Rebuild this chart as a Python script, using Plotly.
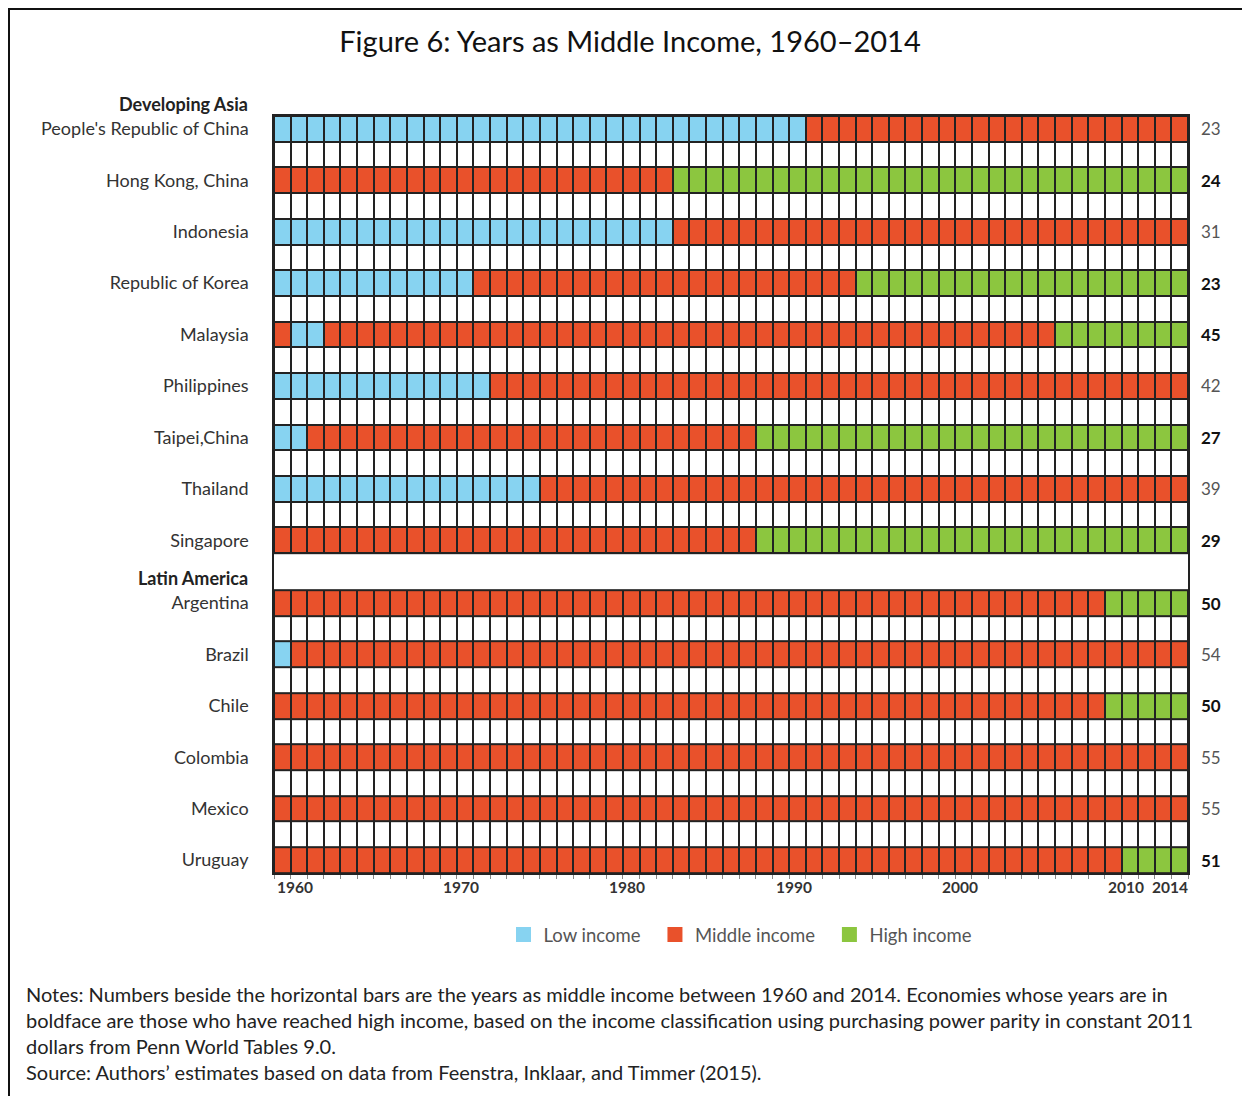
import plotly.graph_objects as go

# income status per year 1960..2014 (L = low, M = middle, H = high), grouped by decade
years = list(range(1960, 2015))

asia_countries = [
    "People's Republic of China", "Hong Kong, China", "Indonesia", "Republic of Korea",
    "Malaysia", "Philippines", "Taipei,China", "Thailand", "Singapore",
]
asia_status = [
    "LLLLLLLLLL LLLLLLLLLL LLLLLLLLLL LLMMMMMMMM MMMMMMMMMM MMMMM",
    "MMMMMMMMMM MMMMMMMMMM MMMMHHHHHH HHHHHHHHHH HHHHHHHHHH HHHHH",
    "LLLLLLLLLL LLLLLLLLLL LLLLMMMMMM MMMMMMMMMM MMMMMMMMMM MMMMM",
    "LLLLLLLLLL LLMMMMMMMM MMMMMMMMMM MMMMMHHHHH HHHHHHHHHH HHHHH",
    "MLLMMMMMMM MMMMMMMMMM MMMMMMMMMM MMMMMMMMMM MMMMMMMHHH HHHHH",
    "LLLLLLLLLL LLLMMMMMMM MMMMMMMMMM MMMMMMMMMM MMMMMMMMMM MMMMM",
    "LLMMMMMMMM MMMMMMMMMM MMMMMMMMMH HHHHHHHHHH HHHHHHHHHH HHHHH",
    "LLLLLLLLLL LLLLLLMMMM MMMMMMMMMM MMMMMMMMMM MMMMMMMMMM MMMMM",
    "MMMMMMMMMM MMMMMMMMMM MMMMMMMMMH HHHHHHHHHH HHHHHHHHHH HHHHH",
]
asia_years_mid = [23, 24, 31, 23, 45, 42, 27, 39, 29]

latam_countries = ["Argentina", "Brazil", "Chile", "Colombia", "Mexico", "Uruguay"]
latam_status = [
    "MMMMMMMMMM MMMMMMMMMM MMMMMMMMMM MMMMMMMMMM MMMMMMMMMM HHHHH",
    "LMMMMMMMMM MMMMMMMMMM MMMMMMMMMM MMMMMMMMMM MMMMMMMMMM MMMMM",
    "MMMMMMMMMM MMMMMMMMMM MMMMMMMMMM MMMMMMMMMM MMMMMMMMMM HHHHH",
    "MMMMMMMMMM MMMMMMMMMM MMMMMMMMMM MMMMMMMMMM MMMMMMMMMM MMMMM",
    "MMMMMMMMMM MMMMMMMMMM MMMMMMMMMM MMMMMMMMMM MMMMMMMMMM MMMMM",
    "MMMMMMMMMM MMMMMMMMMM MMMMMMMMMM MMMMMMMMMM MMMMMMMMMM MHHHH",
]
latam_years_mid = [50, 54, 50, 55, 55, 51]

label_years = [1960, 1970, 1980, 1990, 2000, 2010, 2014]

COLORS = {"L": "#87D3F1", "M": "#E9512B", "H": "#8CC63F"}
LEVEL = {"L": 0, "M": 1, "H": 2}
BLANK = 3
GRID = "#222222"
FONT = "Lato"

# the page body adds an 8px margin, so the figure is drawn 8px in from the window corner
OFF = 8
W, H = 1242, 1088
ML, MR, MT, MB = 266, 62, 108, 223
PW, PH = W - ML - MR, H - MT - MB
GAP = 1.44  # height of the "Latin America" spacer row, in row units


def px_x(sx):
    return (sx - OFF - ML) / PW


def px_y(sy):
    return (H - MB - (sy - OFF)) / PH


def build_rows(statuses):
    z = []
    for i, s in enumerate(statuses):
        s = s.replace(" ", "")
        z.append([LEVEL[c] for c in s])
        if i < len(statuses) - 1:
            z.append([BLANK] * len(years))
    return z


z_asia = build_rows(asia_status)
z_latam = build_rows(latam_status)
n_asia = len(z_asia)
latam_top = n_asia + GAP

scale = [
    [0, COLORS["L"]], [0.25, COLORS["L"]],
    [0.25, COLORS["M"]], [0.5, COLORS["M"]],
    [0.5, COLORS["H"]], [0.75, COLORS["H"]],
    [0.75, "white"], [1, "white"],
]

fig = go.Figure()
common = dict(x=years, colorscale=scale, zmin=-0.5, zmax=3.5, showscale=False, hoverinfo="skip")
fig.add_trace(go.Heatmap(z=z_asia, y=list(range(n_asia + 1)), xgap=2, ygap=2, **common))
fig.add_trace(go.Heatmap(z=[[BLANK] * len(years)], y=[n_asia, latam_top], xgap=0, ygap=2, **common))
fig.add_trace(go.Heatmap(z=z_latam, y=[latam_top + k for k in range(len(z_latam) + 1)],
                         xgap=2, ygap=2, **common))

nb = "\u00a0\u00a0"
for key, name in [("L", "Low income"), ("M", "Middle income"), ("H", "High income")]:
    fig.add_trace(go.Scatter(x=[None], y=[None], mode="markers", name=name + nb,
                             marker=dict(symbol="square", size=15, color=COLORS[key])))

asia_y = [2 * i + 0.5 for i in range(len(asia_countries))]
latam_y = [latam_top + 2 * j + 0.5 for j in range(len(latam_countries))]

# years-as-middle-income numbers on the right, bold where high income was reached
for yv, n, s in list(zip(asia_y, asia_years_mid, asia_status)) + list(zip(latam_y, latam_years_mid, latam_status)):
    high = "H" in s
    fig.add_annotation(x=1, xref="paper", y=yv, yref="y", xanchor="left", xshift=11,
                       text=f"<b>{n}</b>" if high else str(n), showarrow=False,
                       font=dict(family=FONT, size=17, color="#111" if high else "#555"))

# group headers
fig.add_annotation(x=0, xref="paper", y=px_y(104), yref="paper", xanchor="right", yanchor="middle",
                   xshift=-24, text="<b>Developing Asia</b>", showarrow=False,
                   font=dict(family=FONT, size=18, color="#222"))
fig.add_annotation(x=0, xref="paper", y=n_asia + GAP / 2 + 0.25, yref="y", xanchor="right",
                   yanchor="middle", xshift=-24, text="<b>Latin America</b>", showarrow=False,
                   font=dict(family=FONT, size=18, color="#222"))

# year labels under the grid
for yr in label_years:
    last = yr == label_years[-1]
    fig.add_annotation(x=yr + 0.5 if last else yr - 0.5, xref="x", y=0, yref="paper",
                       xanchor="right" if last else "left", xshift=2 if last else 1,
                       yanchor="top", yshift=-3, text=f"<b>{yr}</b>", showarrow=False,
                       font=dict(family=FONT, size=15.5, color="#333"))

# notes
notes = ("Notes: Numbers beside the horizontal bars are the years as middle income between 1960 and 2014. "
         "Economies whose years are in<br>boldface are those who have reached high income, based on the income "
         "classification using purchasing power parity in constant 2011<br>dollars from Penn World Tables 9.0."
         "<br>Source: Authors\u2019 estimates based on data from Feenstra, Inklaar, and Timmer (2015).")
fig.add_annotation(x=px_x(24), xref="paper", y=px_y(980), yref="paper", xanchor="left", yanchor="top",
                   align="left", text=notes, showarrow=False,
                   font=dict(family=FONT, size=20, color="#222"))

# outer frame (left and top edges)
fig.add_shape(type="line", xref="paper", yref="paper", x0=px_x(9), x1=px_x(9), y0=px_y(8), y1=px_y(1200),
              line=dict(color="#111", width=2))
fig.add_shape(type="line", xref="paper", yref="paper", x0=px_x(8), x1=px_x(1260), y0=px_y(9), y1=px_y(9),
              line=dict(color="#111", width=2))

fig.update_layout(
    width=W, height=H,
    margin=dict(l=ML, r=MR, t=MT, b=MB),
    paper_bgcolor="white", plot_bgcolor=GRID,
    font=dict(family=FONT, color="#333"),
    title=dict(text="Figure 6: Years as Middle Income, 1960\u20132014", x=(630 - OFF) / W, xanchor="center",
               y=1 - (42 - OFF) / H, yanchor="middle", font=dict(family=FONT, size=29, color="#111")),
    xaxis=dict(range=[1959.5, 2014.5], tickvals=[y - 0.5 for y in years] + [2014.5],
               ticks="outside", ticklen=4, tickcolor="#888", showticklabels=False,
               showgrid=False, zeroline=False, showline=True, mirror=True, linecolor=GRID, linewidth=1.5),
    yaxis=dict(range=[latam_top + len(z_latam), 0], tickvals=asia_y + latam_y,
               ticktext=asia_countries + latam_countries, ticks="", ticklabelstandoff=20,
               tickfont=dict(family=FONT, size=18, color="#333"),
               showgrid=False, zeroline=False, showline=True, mirror=True, linecolor=GRID, linewidth=1.5),
    legend=dict(orientation="h", x=px_x(745), xanchor="center", y=px_y(935), yanchor="middle",
                font=dict(family=FONT, size=18.5, color="#555"), itemwidth=30),
    showlegend=True,
)

fig.write_html("out.html")
